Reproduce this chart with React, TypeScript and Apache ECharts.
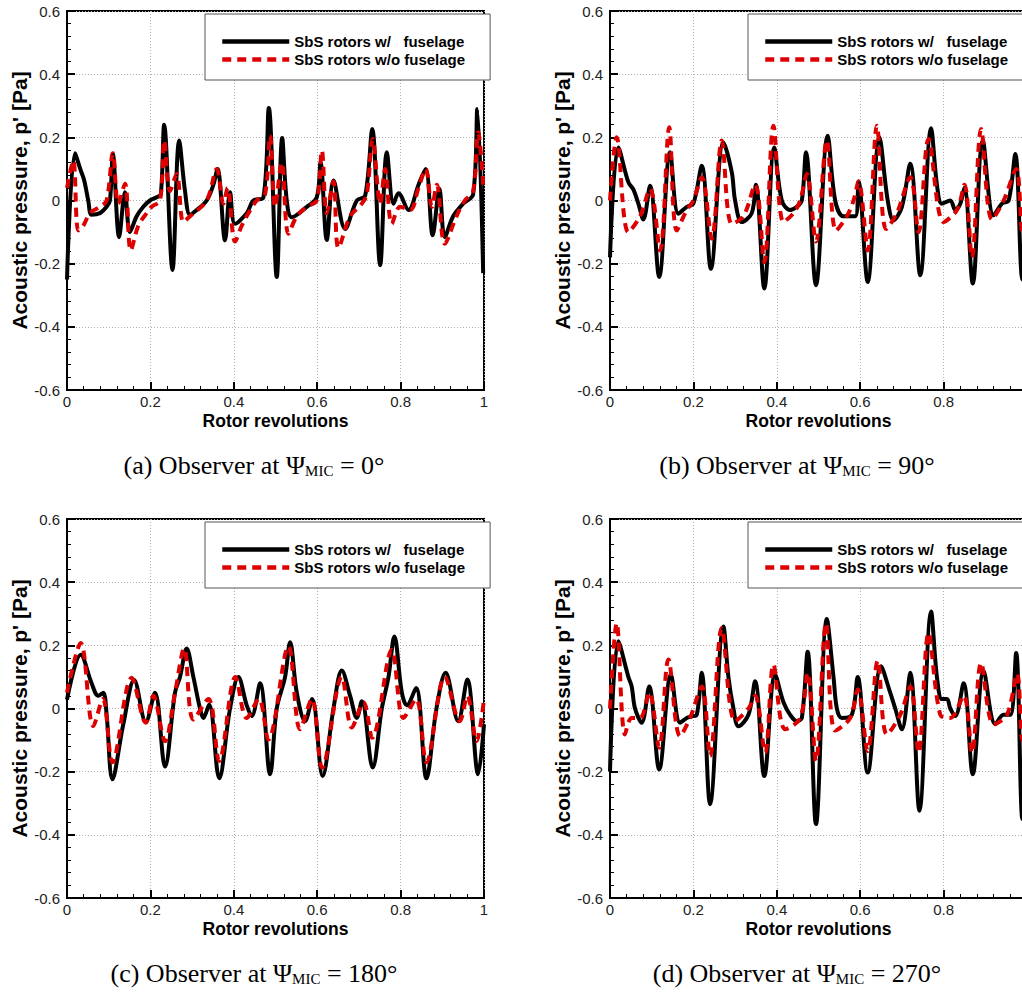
import React, { useEffect, useRef } from "react";
import * as echarts from "echarts";

// ---- data: [rotor revolutions, acoustic pressure p' (Pa)] ----
const aWith = [
  [0, -0.25], [0.019, 0.15], [0.033, 0.095], [0.041, 0.065], [0.051, 0.0], [0.059, -0.045], [0.079, -0.04], [0.095, -0.02],
  [0.103, 0.0], [0.11, 0.147], [0.125, -0.116], [0.139, 0.026], [0.151, -0.1], [0.167, -0.05], [0.183, -0.02], [0.199, 0.0],
  [0.215, 0.01], [0.225, 0.02], [0.233, 0.24], [0.253, -0.22], [0.269, 0.19], [0.283, 0.03], [0.295, -0.045], [0.311, -0.03],
  [0.335, 0.0], [0.351, 0.05], [0.361, 0.1], [0.379, -0.126], [0.391, 0.026], [0.403, -0.074], [0.431, -0.04], [0.447, 0.0],
  [0.471, 0.01], [0.484, 0.293], [0.503, -0.242], [0.516, 0.198], [0.527, 0.0], [0.539, -0.053], [0.575, -0.02], [0.599, 0.01],
  [0.608, 0.12], [0.623, -0.125], [0.639, 0.063], [0.667, -0.09], [0.695, 0.0], [0.715, 0.015], [0.732, 0.226], [0.751, -0.205],
  [0.767, 0.153], [0.783, -0.01], [0.795, 0.023], [0.819, -0.03], [0.843, 0.05], [0.86, 0.1], [0.877, -0.11], [0.893, 0.037],
  [0.906, -0.116], [0.926, -0.05], [0.95, -0.01], [0.974, 0.02], [0.984, 0.29], [0.998, -0.23],
];
const aWithout = [
  [0, 0.04], [0.015, 0.126], [0.027, -0.095], [0.039, -0.08], [0.055, -0.04], [0.079, -0.02], [0.095, 0.0], [0.11, 0.15],
  [0.123, -0.01], [0.139, 0.053], [0.153, -0.158], [0.171, -0.08], [0.191, -0.04], [0.203, -0.02], [0.223, 0.0], [0.233, 0.19],
  [0.247, 0.03], [0.263, 0.084], [0.279, -0.068], [0.295, -0.05], [0.335, 0.0], [0.359, 0.1], [0.375, -0.01], [0.385, 0.04],
  [0.403, -0.13], [0.419, -0.08], [0.435, -0.04], [0.455, 0.0], [0.475, 0.02], [0.487, 0.205], [0.499, -0.02], [0.515, 0.12],
  [0.531, -0.105], [0.551, -0.05], [0.575, -0.02], [0.599, 0.0], [0.611, 0.158], [0.623, -0.04], [0.639, 0.06], [0.651, -0.15],
  [0.679, -0.05], [0.707, -0.01], [0.719, 0.02], [0.733, 0.195], [0.751, -0.01], [0.763, 0.1], [0.779, -0.074], [0.799, -0.02],
  [0.823, -0.03], [0.843, 0.04], [0.86, 0.1], [0.875, -0.02], [0.887, 0.05], [0.906, -0.137], [0.934, -0.05], [0.954, 0.0],
  [0.974, 0.03], [0.986, 0.216], [0.998, 0.05],
];
const bWith = [
  [0, -0.18], [0.02, 0.168], [0.044, 0.058], [0.056, 0.035], [0.068, -0.01], [0.08, -0.06], [0.096, 0.047], [0.118, -0.242],
  [0.144, 0.153], [0.164, -0.042], [0.184, -0.02], [0.2, -0.01], [0.22, 0.11], [0.242, -0.216], [0.272, 0.184], [0.292, 0.09],
  [0.3, 0.0], [0.316, -0.068], [0.34, -0.04], [0.35, 0.05], [0.37, -0.279], [0.394, 0.168], [0.412, 0.0], [0.432, -0.03],
  [0.448, -0.02], [0.46, 0.0], [0.47, 0.153], [0.494, -0.268], [0.522, 0.205], [0.54, 0.0], [0.56, -0.05], [0.588, -0.05],
  [0.596, 0.06], [0.618, -0.258], [0.646, 0.2], [0.666, 0.0], [0.68, -0.063], [0.7, -0.02], [0.72, 0.116], [0.744, -0.237],
  [0.77, 0.229], [0.784, 0.05], [0.796, -0.01], [0.816, 0.0], [0.828, -0.03], [0.84, -0.01], [0.85, 0.04], [0.87, -0.263],
  [0.894, 0.19], [0.92, -0.047], [0.94, -0.01], [0.956, 0.0], [0.972, 0.147], [0.989, -0.25], [1.0, -0.1],
];
const bWithout = [
  [0, 0.0], [0.016, 0.2], [0.044, -0.1], [0.072, -0.05], [0.096, 0.037], [0.12, -0.158], [0.142, 0.232], [0.16, -0.095],
  [0.184, -0.03], [0.2, 0.0], [0.22, 0.074], [0.244, -0.121], [0.268, 0.19], [0.292, -0.074], [0.32, -0.05], [0.348, 0.05],
  [0.37, -0.195], [0.392, 0.237], [0.416, -0.068], [0.44, -0.04], [0.456, 0.0], [0.472, 0.084], [0.494, -0.13], [0.52, 0.19],
  [0.542, -0.095], [0.568, -0.05], [0.584, 0.0], [0.596, 0.06], [0.618, -0.158], [0.64, 0.237], [0.662, -0.09], [0.688, -0.04],
  [0.72, 0.074], [0.74, -0.1], [0.764, 0.195], [0.8, -0.068], [0.832, -0.03], [0.85, 0.05], [0.868, -0.18], [0.89, 0.226],
  [0.916, -0.06], [0.944, 0.0], [0.974, 0.1], [0.989, -0.1], [1.0, 0.0],
];
const cWith = [
  [0, 0.028], [0.033, 0.17], [0.059, 0.08], [0.075, 0.04], [0.087, 0.05], [0.095, -0.02], [0.109, -0.224], [0.135, -0.05],
  [0.161, 0.09], [0.189, -0.043], [0.211, 0.05], [0.235, -0.184], [0.259, 0.05], [0.271, 0.1], [0.287, 0.19], [0.303, 0.1],
  [0.319, 0.0], [0.327, -0.03], [0.341, 0.013], [0.365, -0.221], [0.391, 0.0], [0.411, 0.1], [0.431, 0.01], [0.443, -0.024],
  [0.463, 0.08], [0.487, -0.208], [0.503, 0.0], [0.523, 0.1], [0.535, 0.21], [0.551, 0.05], [0.571, -0.04], [0.588, 0.03],
  [0.613, -0.214], [0.639, 0.0], [0.659, 0.12], [0.679, 0.04], [0.695, -0.03], [0.707, 0.023], [0.733, -0.187], [0.755, 0.0],
  [0.771, 0.1], [0.785, 0.228], [0.803, 0.05], [0.815, 0.01], [0.837, 0.065], [0.862, -0.221], [0.886, 0.0], [0.908, 0.113],
  [0.938, -0.04], [0.96, 0.092], [0.986, -0.208], [1.0, -0.05],
];
const cWithout = [
  [0, 0.05], [0.033, 0.207], [0.063, -0.056], [0.086, 0.03], [0.109, -0.17], [0.155, 0.097], [0.189, -0.045], [0.207, 0.04],
  [0.235, -0.103], [0.259, 0.05], [0.281, 0.19], [0.303, -0.035], [0.339, 0.03], [0.365, -0.166], [0.404, 0.1], [0.431, -0.03],
  [0.46, 0.03], [0.483, -0.098], [0.531, 0.197], [0.559, -0.066], [0.587, 0.03], [0.612, -0.187], [0.659, 0.1], [0.683, -0.06],
  [0.711, 0.02], [0.732, -0.093], [0.779, 0.186], [0.807, -0.03], [0.837, 0.03], [0.862, -0.17], [0.906, 0.1], [0.942, -0.04],
  [0.96, 0.04], [0.982, -0.103], [1.0, 0.03],
];
const dWith = [
  [0, -0.2], [0.02, 0.213], [0.044, 0.1], [0.052, 0.07], [0.06, 0.0], [0.076, -0.045], [0.094, 0.07], [0.118, -0.193],
  [0.146, 0.107], [0.168, -0.045], [0.184, -0.03], [0.196, -0.025], [0.208, -0.02], [0.22, 0.113], [0.24, -0.303], [0.272, 0.26],
  [0.284, 0.1], [0.296, 0.0], [0.308, -0.056], [0.332, -0.02], [0.348, 0.086], [0.37, -0.214], [0.396, 0.107], [0.416, 0.02],
  [0.432, -0.02], [0.448, -0.04], [0.46, -0.03], [0.474, 0.18], [0.494, -0.366], [0.52, 0.283], [0.536, 0.1], [0.544, 0.0],
  [0.556, -0.03], [0.58, -0.02], [0.594, 0.1], [0.618, -0.203], [0.65, 0.134], [0.672, 0.05], [0.684, 0.0], [0.7, -0.066],
  [0.72, 0.113], [0.742, -0.324], [0.77, 0.307], [0.784, 0.1], [0.796, 0.03], [0.808, 0.03], [0.816, 0.0], [0.828, -0.024],
  [0.848, 0.08], [0.87, -0.208], [0.896, 0.118], [0.924, -0.05], [0.944, -0.02], [0.96, -0.02], [0.974, 0.176], [0.989, -0.35],
  [1.0, -0.1],
];
const dWithout = [
  [0, 0.0], [0.016, 0.27], [0.036, -0.082], [0.052, -0.03], [0.072, -0.03], [0.094, 0.05], [0.118, -0.124], [0.14, 0.155],
  [0.168, -0.087], [0.192, -0.03], [0.22, 0.07], [0.24, -0.15], [0.268, 0.255], [0.3, -0.04], [0.332, 0.0], [0.348, 0.04],
  [0.372, -0.14], [0.392, 0.139], [0.42, -0.066], [0.456, -0.03], [0.474, 0.113], [0.494, -0.166], [0.518, 0.27], [0.54, -0.07],
  [0.576, -0.03], [0.594, 0.06], [0.618, -0.135], [0.642, 0.152], [0.664, -0.082], [0.696, -0.02], [0.72, 0.07], [0.74, -0.14],
  [0.764, 0.239], [0.792, -0.02], [0.816, -0.03], [0.848, 0.04], [0.868, -0.14], [0.89, 0.144], [0.92, -0.05], [0.952, -0.02],
  [0.976, 0.11], [0.989, -0.1], [1.0, 0.0],
];

const seriesNames = ["SbS rotors w/   fuselage", "SbS rotors w/o fuselage"];
const panelLetters = ["(a)", "(b)", "(c)", "(d)"];
const panelAngles = ["0°", "90°", "180°", "270°"];
const panelData = [
  [aWith, aWithout],
  [bWith, bWithout],
  [cWith, cWithout],
  [dWith, dWithout],
];
const xTitle = "Rotor revolutions";
const yTitle = "Acoustic pressure, p' [Pa]";

const W = 1022;
const GRID_LEFT = [67, 610, 67, 610];
const GRID_TOP = [11, 11, 519, 519];
const GW = 417;
const GH = 379;
const RED = "#dd0000";
const DASH = [9, 6];

function buildOption() {
  const grids: any[] = [];
  const xAxes: any[] = [];
  const yAxes: any[] = [];
  const series: any[] = [];
  const legends: any[] = [];
  const graphics: any[] = [];
  for (let i = 0; i < 4; i++) {
    const rightCol = i % 2 === 1;
    grids.push({
      left: GRID_LEFT[i], top: GRID_TOP[i], right: W - GRID_LEFT[i] - GW, height: GH,
      outerBoundsMode: "none", containLabel: false,
      show: true, borderColor: "#000", borderWidth: 2, backgroundColor: "transparent",
    });
    const tick = { show: true, inside: true, length: 8, lineStyle: { color: "#000", width: 2 } };
    const minor = { show: true, splitNumber: 5, length: 4, lineStyle: { color: "#000", width: 1 } };
    const split = { show: true, lineStyle: { color: "#b0b0b0", width: 1, type: [1, 2] } };
    const label = { color: "#222", fontSize: 15, fontFamily: "Liberation Sans" };
    xAxes.push({
      gridIndex: i, type: "value", min: 0, max: 1, interval: 0.2,
      axisLine: { show: true, onZero: false, lineStyle: { color: "#000", width: 2 } },
      axisTick: tick, minorTick: minor, splitLine: split,
      axisLabel: { ...label, margin: 4, showMaxLabel: !rightCol },
      name: xTitle, nameLocation: "middle", nameGap: 22,
      nameTextStyle: { fontSize: 17.5, fontWeight: "bold", color: "#000", fontFamily: "Liberation Sans" },
    });
    yAxes.push({
      gridIndex: i, type: "value", min: -0.6, max: 0.6, interval: 0.2,
      axisLine: { show: true, onZero: false, lineStyle: { color: "#000", width: 2 } },
      axisTick: tick, minorTick: minor, splitLine: split,
      axisLabel: { ...label, margin: 7 },
      name: yTitle, nameLocation: "middle", nameGap: 37, nameRotate: 90,
      nameTextStyle: { fontSize: 21, fontWeight: "bold", color: "#000", fontFamily: "Liberation Sans" },
    });
    series.push({
      name: seriesNames[0], type: "line", xAxisIndex: i, yAxisIndex: i, data: panelData[i][0],
      symbol: "none", showSymbol: false, smooth: 0.35, clip: true,
      lineStyle: { color: "#000", width: 4 }, itemStyle: { color: "#000" }, z: 2,
    });
    series.push({
      name: seriesNames[1], type: "line", xAxisIndex: i, yAxisIndex: i, data: panelData[i][1],
      symbol: "none", showSymbol: false, smooth: 0.35, clip: true,
      lineStyle: { color: RED, width: 4, type: DASH }, itemStyle: { color: RED }, z: 3,
    });
    legends.push({
      left: GRID_LEFT[i] + 138, top: GRID_TOP[i] + 3, orient: "vertical",
      padding: [20, 25, 13, 15], itemGap: 3, itemWidth: 67, itemHeight: 15, itemTextGap: 11,
      borderColor: "#555", borderWidth: 1, backgroundColor: "#fff",
      lineStyle: { width: 4.5 }, itemStyle: { opacity: 0 }, selectedMode: false,
      textStyle: { fontSize: 15, fontWeight: "bold", color: "#000", fontFamily: "Liberation Sans" },
      data: seriesNames,
    });
    const cx = GRID_LEFT[i] + 187;
    const cy = GRID_TOP[i] + 454;
    graphics.push({
      type: "text", x: cx, y: cy,
      style: {
        text: `{n|${panelLetters[i]} Observer at Ψ}{s|MIC}{n| = ${panelAngles[i]}}`,
        align: "center", verticalAlign: "middle",
        textAlign: "center", textVerticalAlign: "middle",
        rich: {
          n: { fontFamily: "Liberation Serif", fontSize: 26, fill: "#000", color: "#000" },
          s: { fontFamily: "Liberation Serif", fontSize: 15, fill: "#000", color: "#000", verticalAlign: "bottom" },
        },
      },
    });
  }
  return {
    animation: false,
    backgroundColor: "#fff",
    grid: grids, xAxis: xAxes, yAxis: yAxes, series, legend: legends, graphic: graphics,
  };
}

export default function App() {
  const ref = useRef<HTMLDivElement>(null);
  useEffect(() => {
    if (!ref.current) return;
    const chart = echarts.init(ref.current, null, { renderer: "svg" });
    chart.setOption(buildOption() as any);
    return () => chart.dispose();
  }, []);
  return (
    <div
      ref={ref}
      style={{ position: "absolute", left: 0, top: 0, width: W, height: 997, background: "#fff" }}
    />
  );
}
